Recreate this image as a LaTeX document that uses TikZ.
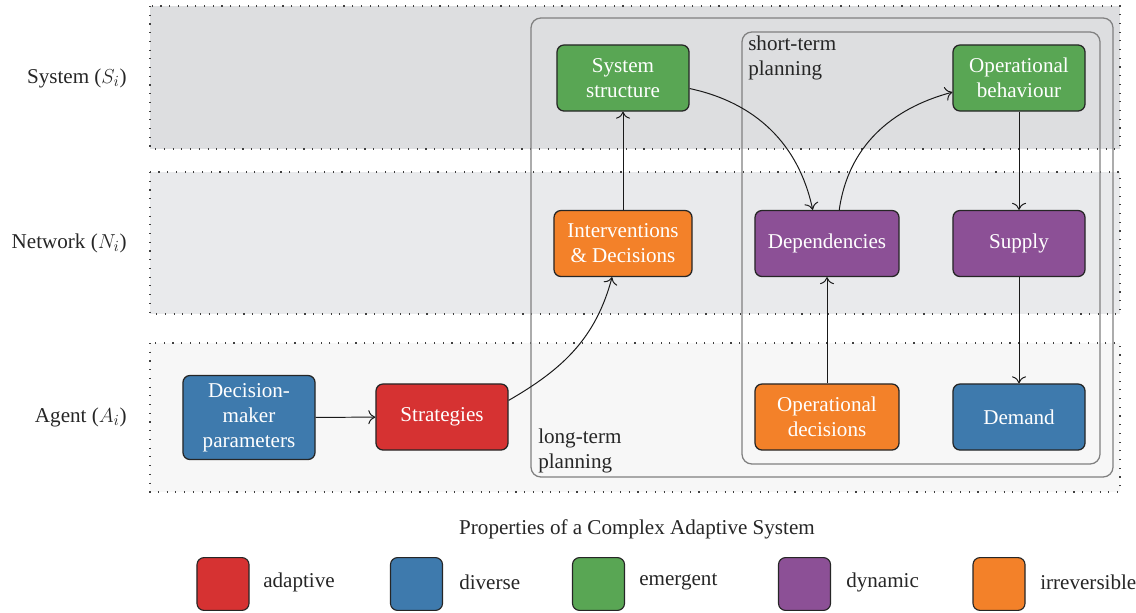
\documentclass[tikz,border=0pt]{standalone}
\usepackage{fontspec}
\setmainfont{Liberation Serif}
\usepackage{tikz}
\usetikzlibrary{arrows.meta}

\definecolor{cadapt}{RGB}{214,50,50}
\definecolor{cdiverse}{RGB}{62,122,173}
\definecolor{cemerge}{RGB}{89,166,84}
\definecolor{cdynamic}{RGB}{140,80,150}
\definecolor{cirrev}{RGB}{243,129,41}
\definecolor{bandsys}{RGB}{221,222,224}
\definecolor{bandnet}{RGB}{233,234,236}
\definecolor{bandagt}{RGB}{247,247,247}

\tikzset{
	band/.style={draw=black!75, line width=0.8pt, dash pattern=on 0.8pt off 5.4pt},
	plan/.style={draw=black!50, line width=0.9pt, rounded corners=7pt},
	box/.style={draw=black!85, line width=0.9pt, rounded corners=5pt, text=white, align=center,
		minimum width=3.3cm, minimum height=1.65cm, inner sep=2pt},
	swatch/.style={draw=black!85, line width=0.8pt, rounded corners=5pt, minimum width=1.3cm, minimum height=1.32cm},
	conn/.style={-{To[length=5pt, width=10pt]}, line width=0.7pt, black!90},
	lbl/.style={text=black!85, align=left, inner sep=0pt}
}

\begin{document}
\begin{tikzpicture}[x=0.025cm, y=0.025cm, font=\fontsize{15}{17.8}\selectfont]
				\useasboundingbox (0,0) rectangle (1136,-612);
				
				\draw[band, fill=bandsys] (150,-6) rectangle (1120,-149);
				\draw[band, fill=bandnet] (150,-172) rectangle (1120,-314);
				\draw[band, fill=bandagt] (150,-343) rectangle (1120,-492);
				
				\node[lbl, anchor=east] (lblsys) at (127,-78) {System ($S_i$)};
				\node[lbl, anchor=east] (lblnet) at (127,-243) {Network ($N_i$)};
				\node[lbl, anchor=east] (lblagt) at (127,-417) {Agent ($A_i$)};
				
				\draw[plan] (531,-18) rectangle (1113,-477);
				\draw[plan] (742,-32) rectangle (1100,-464);
				\node[lbl, anchor=north west] (lblshort) at (748,-36) {short-term\\planning};
				\node[lbl, anchor=south west] (lbllong) at (538,-473) {long-term\\planning};
				
				\node[box, fill=cdiverse, minimum height=2.1cm] (dmp) at (249,-417.5) {Decision-\\maker\\parameters};
				\node[box, fill=cadapt] (strat) at (442,-417) {Strategies};
				\node[box, fill=cirrev, minimum width=3.45cm] (interv) at (623,-243.5) {Interventions\\\& Decisions};
				\node[box, fill=cemerge] (sysstr) at (623,-78) {System\\structure};
				\node[box, fill=cdynamic, minimum width=3.6cm] (dep) at (827,-243.5) {Dependencies};
				\node[box, fill=cirrev, minimum width=3.6cm] (opdec) at (827,-417) {Operational\\decisions};
				\node[box, fill=cemerge] (opbeh) at (1019,-78) {Operational\\behaviour};
				\node[box, fill=cdynamic] (supply) at (1019,-243.5) {Supply};
				\node[box, fill=cdiverse] (demand) at (1019,-417) {Demand};
				
				\draw[conn] (dmp) -- (strat);
				\draw[conn] (strat.14) to[out=30, in=-105] (interv.-108);
				\draw[conn] (interv) -- (sysstr);
				\draw[conn] (sysstr.-9) to[out=-12, in=102] (dep.113);
				\draw[conn] (dep.70) to[out=82, in=195] (opbeh.192);
				\draw[conn] (opbeh) -- (supply);
				\draw[conn] (supply) -- (demand);
				\draw[conn] (opdec) -- (dep);
				
				\node[lbl] (legtitle) at (637,-529) {Properties of a Complex Adaptive System};
				\foreach \nm/\col/\sx/\lx in {adaptive/cadapt/223/263, diverse/cdiverse/416.5/459, emergent/cemerge/598.5/639, dynamic/cdynamic/804.5/846, irreversible/cirrev/999/1040}{
					\node[swatch, fill=\col] (sw-\nm) at (\sx,-584) {};
					\node[lbl, anchor=west] (lab-\nm) at (\lx,-582) {\nm};
				}
			\end{tikzpicture}
\end{document}
